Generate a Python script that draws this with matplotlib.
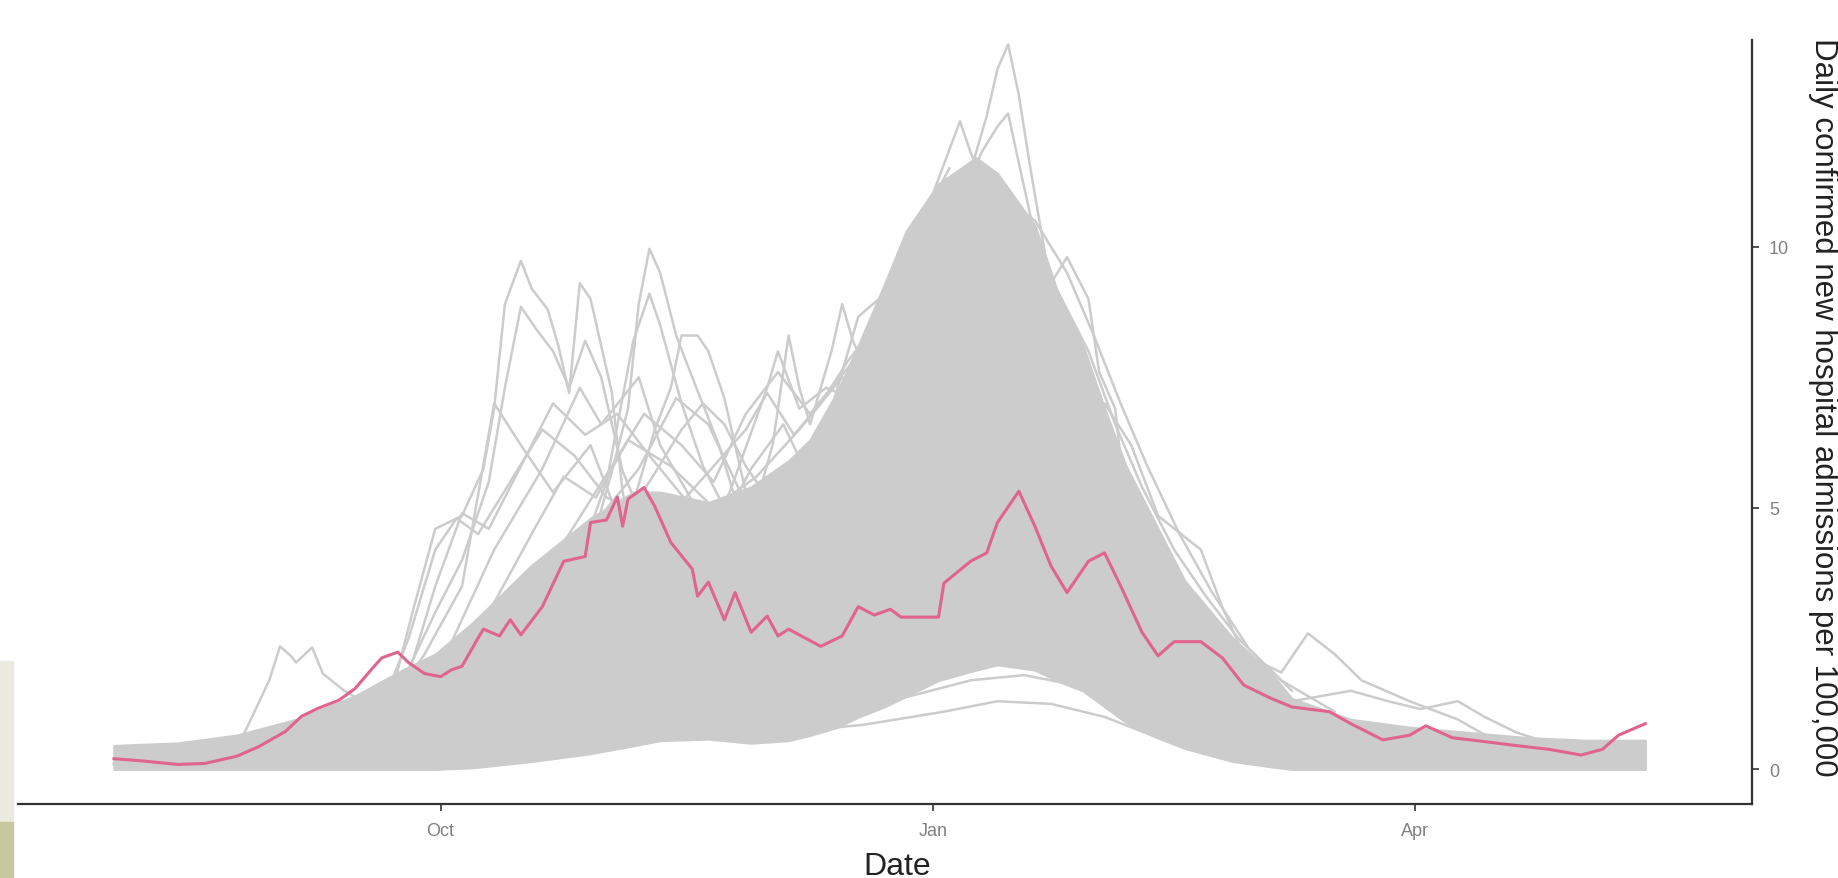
import numpy as np
import matplotlib
matplotlib.use("Agg")
import matplotlib.pyplot as plt
from matplotlib.patches import Rectangle

plt.rcParams['font.family'] = ['Liberation Sans', 'DejaVu Sans']

# days are counted from 1 Aug 2020
start = np.datetime64('2020-08-01')

# dense core of the grey spaghetti (upper / lower edge)
core_day = [0, 12, 23, 34, 45, 54, 60, 67, 78, 89, 97, 102, 111, 119, 126, 130, 135, 139, 144, 148,
            154, 161, 165, 172, 176, 181, 185, 189, 195, 200, 209, 216, 220, 231, 242, 253, 264, 275, 286]
core_hi = [0.45, 0.5, 0.65, 0.95, 1.4, 1.9, 2.2, 2.8, 3.9, 4.8, 5.3, 5.3, 5.1, 5.4, 5.9, 6.3, 7.2, 8.1, 9.3, 10.3,
           11.2, 11.7, 11.4, 10.4, 9.2, 8.1, 6.9, 5.8, 4.6, 3.6, 2.5, 1.85, 1.35, 0.95, 0.8, 0.7, 0.6, 0.55, 0.55]
core_lo = [0, 0, 0, 0, 0, 0, 0, 0.03, 0.15, 0.3, 0.45, 0.55, 0.58, 0.5, 0.55, 0.65, 0.8, 1.0, 1.2, 1.4,
           1.7, 1.9, 2.0, 1.9, 1.7, 1.5, 1.2, 0.9, 0.6, 0.4, 0.15, 0.05, 0, 0, 0, 0, 0, 0, 0]

# individual grey lines that stick out of the core
a_day = [0, 30, 45, 52, 56, 60, 65, 69, 71, 73, 76, 78, 81, 83, 85, 87, 89, 93, 95, 99, 104, 115, 133, 154, 176, 200, 230, 286]
a_val = [0.1, 0.2, 0.4, 1.5, 3.1, 4.6, 4.85, 5.75, 6.9, 8.9, 9.73, 9.2, 8.8, 8.1, 7.2, 9.3, 9.0, 7.2, 5.3, 3.5, 2.2, 2.0, 2.5, 3.5, 3.0, 1.0, 0.3, 0.1]
b_day = [0, 35, 50, 54, 60, 65, 70, 73, 76, 79, 82, 85, 88, 91, 95, 102, 111, 130, 160, 190, 220, 286]
b_val = [0.1, 0.3, 0.9, 1.7, 3.0, 4.0, 5.5, 7.3, 8.85, 8.4, 8.0, 7.3, 8.2, 7.5, 5.7, 4.0, 2.6, 2.8, 4.0, 2.5, 0.6, 0.1]
c_day = [0, 60, 78, 84, 90, 93, 96, 98, 100, 102, 104, 105, 108, 113, 117, 124, 140, 160, 190, 220, 286]
c_val = [0.1, 0.8, 2.0, 3.1, 4.6, 5.7, 6.9, 8.9, 9.96, 9.5, 8.7, 8.3, 7.5, 6.2, 4.85, 3.5, 3.0, 4.5, 3.0, 0.8, 0.2]
c2_day = [70, 85, 92, 97, 100, 102, 106, 110, 116, 124]
c2_val = [2.0, 3.5, 5.5, 8.2, 9.1, 8.5, 7.0, 5.8, 4.6, 3.8]
d_day = [85, 92, 97, 101, 104, 106, 109, 111, 114, 116, 119, 124, 135]
d_val = [2.5, 4.0, 5.1, 6.5, 7.3, 8.3, 8.3, 8.0, 7.1, 6.2, 4.85, 4.0, 3.5]
e_day = [100, 110, 117, 123, 126, 128, 130, 134, 136, 138, 141, 146, 150]
e_val = [2.0, 3.0, 4.0, 6.2, 8.3, 7.3, 6.6, 8.0, 8.9, 8.2, 7.5, 8.0, 9.0]
f_day = [120, 135, 146, 152, 159, 163, 165, 167, 169, 171, 174, 177, 181, 185, 192, 200, 215, 240, 286]
f_val = [3.0, 5.5, 8.0, 9.8, 11.1, 12.5, 13.4, 13.87, 12.9, 11.6, 9.8, 8.0, 6.2, 4.6, 3.1, 2.0, 0.8, 0.3, 0.1]
g_day = [130, 140, 150, 154, 158, 160, 163, 168, 175, 185, 200]
g_val = [4.0, 7.0, 10.2, 11.3, 12.4, 11.8, 11.1, 10.5, 8.5, 5.0, 2.5]
h_day = [140, 155, 162, 165, 167, 169, 172, 178, 185, 195]
h_val = [6.0, 10.0, 11.8, 12.3, 12.55, 11.6, 10.2, 8.0, 5.5, 3.0]
i_day = [150, 165, 172, 175, 178, 182, 184, 187, 189, 196, 200, 207, 211, 225, 250, 286]
i_val = [3.0, 6.0, 8.0, 9.3, 9.8, 9.0, 7.6, 6.9, 5.0, 4.0, 3.1, 2.2, 1.7, 0.8, 0.3, 0.2]
j_day = [170, 185, 190, 195, 203, 207, 211, 218, 223, 228, 233, 242, 251, 257, 264, 286]
j_val = [7.0, 7.0, 6.2, 4.85, 4.2, 3.1, 2.2, 1.85, 2.6, 2.2, 1.7, 1.3, 0.95, 0.6, 0.4, 0.3]
k_day = [200, 210, 220, 231, 238, 244, 251, 256, 262, 268, 275, 286]
k_val = [2.5, 1.8, 1.3, 1.5, 1.3, 1.15, 1.3, 1.0, 0.7, 0.5, 0.4, 0.5]
l_day = [0, 12, 23, 29, 31, 33, 34, 37, 39, 43, 47, 54, 60, 70]
l_val = [0.1, 0.15, 0.4, 1.7, 2.35, 2.17, 2.04, 2.33, 1.83, 1.5, 1.27, 1.16, 1.6, 2.6]
m1_day = [50, 58, 65, 71, 76, 82, 89, 95, 104, 115, 135]
m1_val = [1.0, 2.2, 3.5, 7.0, 6.2, 5.3, 6.2, 4.6, 3.5, 2.6, 3.0]
m2_day = [55, 62, 71, 80, 87, 91, 98, 102, 111, 122, 140]
m2_val = [1.2, 2.2, 4.2, 5.75, 7.3, 6.6, 7.5, 6.2, 4.6, 4.0, 5.0]
m3_day = [60, 78, 89, 98, 105, 111, 117, 124, 130, 137, 142, 150]
m3_val = [1.5, 3.1, 4.6, 5.75, 7.1, 6.6, 5.3, 5.1, 6.0, 7.3, 8.0, 9.0]
m4_day = [100, 111, 119, 125, 129, 134, 139, 144, 150]
m4_val = [3.0, 4.2, 5.75, 6.6, 5.75, 6.9, 8.66, 9.1, 9.8]
m6_day = [105, 115, 122, 124, 128, 133, 140]
m6_val = [3.5, 5.3, 7.3, 8.0, 6.9, 7.3, 7.0]
n1_day = [40, 50, 55, 60, 64, 68, 74, 80, 86, 92, 100, 110, 125, 140]
n1_val = [0.5, 1.2, 2.5, 4.2, 4.8, 4.5, 5.5, 6.5, 6.0, 5.2, 4.8, 4.0, 4.5, 5.5]
n2_day = [45, 55, 60, 65, 70, 76, 82, 88, 94, 100, 108, 118, 130]
n2_val = [0.6, 1.8, 3.5, 4.9, 4.6, 5.8, 7.0, 6.4, 6.8, 6.0, 5.0, 4.6, 5.2]
n3_day = [60, 70, 78, 84, 90, 96, 104, 112, 120, 128, 136]
n3_val = [1.8, 3.0, 4.5, 5.6, 5.2, 6.3, 5.8, 5.0, 5.6, 6.5, 7.5]
n4_day = [75, 85, 93, 99, 106, 112, 118, 124, 130, 138]
n4_val = [3.0, 4.5, 5.8, 6.8, 6.2, 5.5, 6.8, 7.6, 6.8, 7.8]
n5_day = [95, 105, 112, 118, 122, 127, 132, 137, 143]
n5_val = [4.0, 5.0, 5.8, 6.5, 7.2, 6.4, 7.0, 7.8, 8.6]
n6_day = [90, 100, 106, 110, 114, 118, 122, 128]
n6_val = [4.0, 5.5, 6.5, 7.0, 6.6, 5.8, 5.2, 5.6]
p1_day = [120, 130, 136, 141, 146, 151, 156]
p1_val = [4.5, 5.5, 7.0, 8.5, 9.3, 10.5, 11.5]
p2_day = [165, 172, 178, 183, 188, 193, 199, 205, 212, 220]
p2_val = [11.0, 10.5, 9.5, 8.3, 7.0, 5.8, 4.5, 3.4, 2.3, 1.5]
p3_day = [170, 177, 182, 187, 192, 198, 204, 210, 218, 228]
p3_val = [10.0, 9.0, 8.0, 6.6, 5.4, 4.2, 3.3, 2.5, 1.7, 1.1]
low1_day = [92, 110, 125, 140, 155, 165, 175, 185, 195, 205, 215, 230]
low1_val = [0.6, 0.65, 0.7, 0.85, 1.1, 1.3, 1.25, 1.0, 0.6, 0.3, 0.1, 0.05]
low2_day = [100, 125, 145, 160, 170, 180, 190, 200, 210, 220]
low2_val = [0.7, 0.8, 1.3, 1.7, 1.8, 1.6, 1.2, 0.7, 0.3, 0.1]
low3_day = [110, 130, 150, 162, 172, 182, 192, 202, 212]
low3_val = [0.8, 1.0, 1.6, 2.1, 2.3, 2.0, 1.4, 0.8, 0.4]
low4_day = [120, 140, 155, 168, 178, 188, 198, 208]
low4_val = [0.9, 1.5, 2.2, 2.6, 2.5, 2.0, 1.2, 0.6]

# highlighted region (pink)
pink_day = [0, 5, 12, 17, 23, 27, 32, 35, 38, 42, 45, 48, 50, 53, 55, 58, 61, 63, 65, 68,
            69, 72, 74, 76, 80, 84, 88, 89, 92, 94, 95, 96, 99, 101, 104, 108, 109, 111, 114, 116,
            119, 122, 124, 126, 132, 136, 139, 142, 145, 147, 154, 155, 160, 163, 165, 169, 172, 175, 178, 182,
            185, 188, 192, 195, 198, 203, 207, 211, 216, 220, 227, 231, 237, 242, 245, 250, 255, 262, 268, 274,
            278, 281, 286]
pink_val = [0.20, 0.16, 0.09, 0.11, 0.25, 0.43, 0.72, 1.01, 1.16, 1.32, 1.54, 1.90, 2.13, 2.24, 2.04, 1.83, 1.77, 1.90, 1.97, 2.51,
            2.68, 2.55, 2.86, 2.57, 3.11, 3.98, 4.07, 4.72, 4.77, 5.21, 4.65, 5.17, 5.39, 5.03, 4.34, 3.83, 3.31, 3.58, 2.86, 3.38,
            2.62, 2.93, 2.55, 2.68, 2.35, 2.55, 3.11, 2.95, 3.06, 2.91, 2.91, 3.56, 3.98, 4.14, 4.72, 5.32, 4.65, 3.89, 3.38, 3.98,
            4.14, 3.51, 2.62, 2.17, 2.44, 2.44, 2.13, 1.61, 1.36, 1.19, 1.10, 0.87, 0.56, 0.65, 0.83, 0.60, 0.54, 0.45, 0.38, 0.27,
            0.38, 0.65, 0.87]

tick_dates = ['2020-10-01', '2021-01-01', '2021-04-01']
tick_labels = ['Oct', 'Jan', 'Apr']
y_ticks = [0, 5, 10]


def to_dates(days):
    return start + np.array(days).astype('timedelta64[D]')


grey = '#cccccc'
fig = plt.figure(figsize=(18.38, 8.79), dpi=100)
ax = fig.add_axes([0.0096, 0.084, 0.9438, 0.869])

ax.fill_between(to_dates(core_day), core_lo, core_hi, color=grey, lw=1.8, zorder=1)

grey_lines = [(a_day, a_val), (b_day, b_val), (c_day, c_val), (c2_day, c2_val), (d_day, d_val),
              (e_day, e_val), (f_day, f_val), (g_day, g_val), (h_day, h_val), (i_day, i_val),
              (j_day, j_val), (k_day, k_val), (l_day, l_val), (m1_day, m1_val), (m2_day, m2_val),
              (m3_day, m3_val), (m4_day, m4_val), (m6_day, m6_val),
              (n1_day, n1_val), (n2_day, n2_val), (n3_day, n3_val), (n4_day, n4_val),
              (n5_day, n5_val), (n6_day, n6_val), (p1_day, p1_val), (p2_day, p2_val), (p3_day, p3_val),
              (low1_day, low1_val), (low2_day, low2_val), (low3_day, low3_val), (low4_day, low4_val)]
for d, v in grey_lines:
    ax.plot(to_dates(d), v, color=grey, lw=1.8, zorder=2)

ax.plot(to_dates(pink_day), pink_val, color='#e0648c', lw=2.2, zorder=3)

ax.set_xlim(np.datetime64('2020-07-14'), np.datetime64('2021-06-03'))
ax.set_ylim(-0.67, 13.95)

ax.set_xticks([np.datetime64(t) for t in tick_dates])
ax.set_xticklabels(tick_labels)
ax.set_yticks(y_ticks)
ax.yaxis.tick_right()
ax.yaxis.set_label_position('right')

for s in ['top', 'left']:
    ax.spines[s].set_visible(False)
for s in ['bottom', 'right']:
    ax.spines[s].set_color('#333333')
    ax.spines[s].set_linewidth(1.6)

ax.tick_params(axis='both', colors='#333333', length=5, width=1.2, labelsize=13, labelcolor='#808080')
ax.tick_params(axis='x', pad=8)
ax.tick_params(axis='y', pad=7)

ax.set_xlabel('Date', fontsize=23, color='#222222', va='center')
ax.xaxis.set_label_coords(0.507, -0.081)
ax.set_ylabel('Daily confirmed new hospital admissions per 100,000', fontsize=22.5,
              color='#222222', rotation=270, va='center', ha='center')
ax.yaxis.set_label_coords(1.0406, 0.521)

# scanned-page edge at the lower left
fig.patches.append(Rectangle((0, 0.064), 0.007, 0.183, transform=fig.transFigure,
                             color='#ebeadf', zorder=0))
fig.patches.append(Rectangle((0, 0), 0.007, 0.064, transform=fig.transFigure,
                             color='#c8c8a0', zorder=0))

fig.savefig('out.png', dpi=100, facecolor='white')
